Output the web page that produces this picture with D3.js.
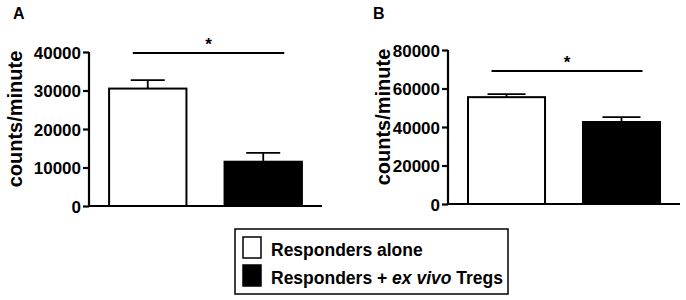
<!DOCTYPE html>
<html>
<head>
<meta charset="utf-8">
<script src="https://cdn.jsdelivr.net/npm/d3@7"></script>
<style>
  body { margin: 0; background: #fff; }
  text { font-family: "Liberation Sans", Arial, sans-serif; font-weight: bold; fill: #000; }
</style>
</head>
<body>
<div id="chart"></div>
<script>
const groups = ["Responders alone", "Responders + ex vivo Tregs"]
const fills = ["#fff", "#000"]

const panelA_means = [30500, 11500]
const panelA_sem = [2200, 2300]
const panelA_ticks = [0, 10000, 20000, 30000, 40000]

const panelB_means = [55500, 42600]
const panelB_sem = [1600, 2500]
const panelB_ticks = [0, 20000, 40000, 60000, 80000]

const svg = d3.select("#chart").append("svg")
    .attr("width", 686)
    .attr("height", 300)

function drawPanel(opt) {
    const g = svg.append("g")

    const y = d3.scaleLinear()
        .domain([0, opt.ticks[opt.ticks.length - 1]])
        .range([opt.y0, opt.y1])

    const x = d3.scaleBand()
        .domain(groups)
        .range([opt.axisX, opt.xEnd])
        .paddingInner(0.33)
        .paddingOuter(0.174)

    // y axis
    const ax = g.append("g")
        .attr("transform", "translate(" + opt.axisX + ",0)")
        .call(d3.axisLeft(y).tickValues(opt.ticks).tickSize(6).tickPadding(2).tickFormat(d3.format("d")))
    ax.select(".domain").attr("stroke-width", 2.2).attr("d", "M0," + (opt.y0 + 1) + "V" + opt.y1)
    ax.selectAll(".tick line").attr("stroke-width", 2.2)
    ax.selectAll(".tick text").style("font-size", "17px").attr("dy", "0.36em")

    // x axis line
    g.append("line")
        .attr("x1", opt.axisX).attr("x2", opt.xEnd)
        .attr("y1", opt.y0).attr("y2", opt.y0)
        .attr("stroke", "#000").attr("stroke-width", 2.2)

    // error bars
    groups.forEach((grp, i) => {
        const cx = x(grp) + x.bandwidth() / 2
        const top = y(opt.means[i] + opt.sem[i])
        g.append("line")
            .attr("x1", cx).attr("x2", cx)
            .attr("y1", y(opt.means[i])).attr("y2", top)
            .attr("stroke", "#000").attr("stroke-width", 1.8)
        g.append("line")
            .attr("x1", cx - opt.cap).attr("x2", cx + opt.cap)
            .attr("y1", top).attr("y2", top)
            .attr("stroke", "#000").attr("stroke-width", 1.8)
    })

    // bars
    g.selectAll("rect.bar")
        .data(groups)
        .enter()
        .append("rect")
        .attr("class", "bar")
        .attr("x", d => x(d))
        .attr("width", x.bandwidth())
        .attr("y", (d, i) => y(opt.means[i]))
        .attr("height", (d, i) => opt.y0 - y(opt.means[i]))
        .attr("fill", (d, i) => fills[i])
        .attr("stroke", "#000")
        .attr("stroke-width", 2)

    // significance line
    const c1 = x(groups[0]) + x.bandwidth() / 2 - 15
    const c2 = x(groups[1]) + x.bandwidth() / 2 + 21
    g.append("line")
        .attr("x1", c1).attr("x2", c2)
        .attr("y1", opt.sigY).attr("y2", opt.sigY)
        .attr("stroke", "#000").attr("stroke-width", 1.8)
    g.append("text")
        .attr("x", (c1 + c2) / 2)
        .attr("y", opt.sigY - 3)
        .attr("text-anchor", "middle")
        .style("font-size", "17px")
        .text("*")

    // y label
    g.append("text")
        .attr("transform", "translate(" + opt.labelX + "," + opt.labelY + ") rotate(-90)")
        .attr("text-anchor", "middle")
        .style("font-size", "20px")
        .text("counts/minute")

    // panel letter
    g.append("text")
        .attr("x", opt.letterX).attr("y", 19)
        .style("font-size", "16px")
        .text(opt.letter)
}

drawPanel({
    letter: "A", letterX: 13,
    means: panelA_means, sem: panelA_sem, ticks: panelA_ticks,
    axisX: 89, xEnd: 322, y0: 206, y1: 52, cap: 17,
    sigY: 53, labelX: 22, labelY: 119
})

drawPanel({
    letter: "B", letterX: 373,
    means: panelB_means, sem: panelB_sem, ticks: panelB_ticks,
    axisX: 448, xEnd: 680, y0: 204, y1: 50, cap: 19,
    sigY: 71, labelX: 390, labelY: 117
})

// legend
const leg = svg.append("g")
leg.append("rect")
    .attr("x", 235).attr("y", 229)
    .attr("width", 273).attr("height", 65)
    .attr("fill", "#fff").attr("stroke", "#000").attr("stroke-width", 1.5)

groups.forEach((grp, i) => {
    const yy = 237 + i * 28
    leg.append("rect")
        .attr("x", 243).attr("y", yy)
        .attr("width", 18).attr("height", 21)
        .attr("fill", fills[i]).attr("stroke", "#000").attr("stroke-width", 1.5)
    const t = leg.append("text")
        .attr("x", 271).attr("y", yy + 19)
        .style("font-size", "17.5px")
    if (i === 0) {
        t.text(grp)
    } else {
        t.append("tspan").text("Responders + ")
        t.append("tspan").style("font-style", "italic").text("ex vivo")
        t.append("tspan").text(" Tregs")
    }
})
</script>
</body>
</html>
